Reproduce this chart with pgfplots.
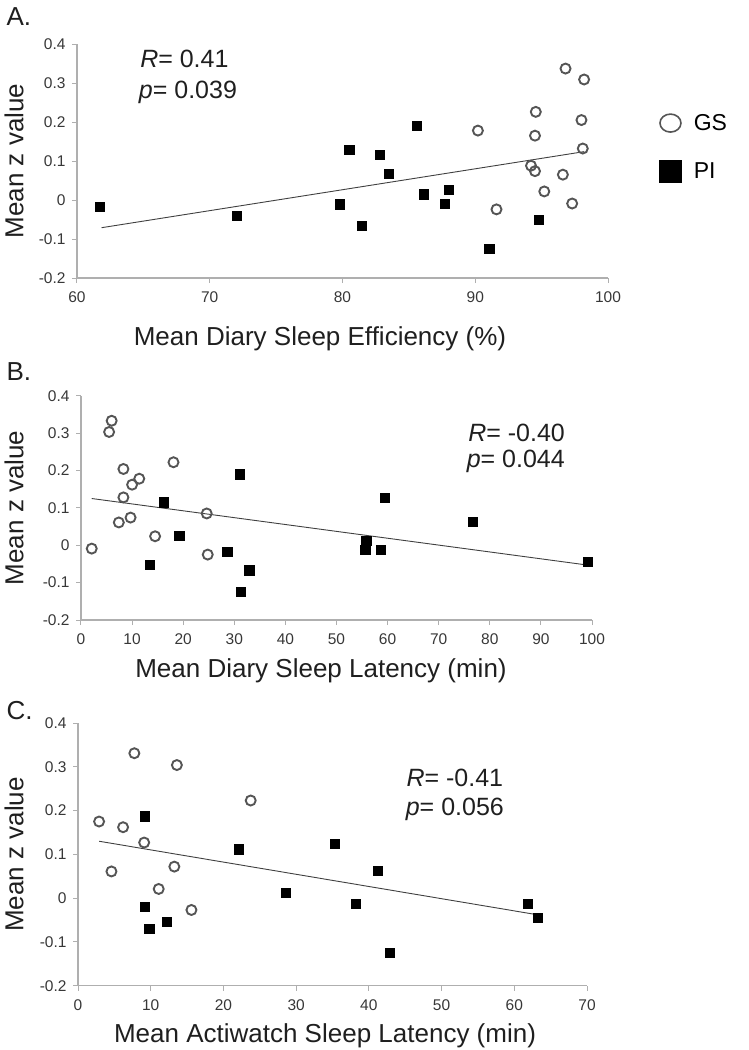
\documentclass[border=0pt]{standalone}
\usepackage{fontspec}
\setmainfont{Liberation Sans}
\usepackage{pgfplots}
\pgfplotsset{compat=1.18}
\definecolor{tickgray}{RGB}{55,55,55}
\definecolor{axgray}{RGB}{175,175,175}
\definecolor{circgray}{RGB}{85,85,85}
\tikzset{anno/.style={anchor=west, font=\fontsize{25}{27}\selectfont, text=black!88}}
\pgfplotsset{
  panel/.style={
    scale only axis,
    axis x line*=bottom, axis y line*=left,
    axis line style={draw=axgray, line width=1.2pt},
    tick style={draw=axgray, line width=1pt},
    major tick length=5pt,
    tick align=outside,
    ymin=-0.2, ymax=0.4,
    ytick={-0.2,-0.1,0,0.1,0.2,0.3,0.4},
    yticklabels={-0.2,-0.1,0,0.1,0.2,0.3,0.4},
    tick label style={font=\fontsize{15.5}{17}\selectfont, text=tickgray},
    /pgf/number format/assume math mode=true,
    xticklabel style={yshift=-5pt},
    yticklabel style={xshift=-3pt},
    ylabel={Mean z value},
    every axis y label/.style={rotate=90, anchor=center},
    every axis x label/.style={anchor=center},
    label style={font=\fontsize{26}{28}\selectfont, text=black!88},
    clip=false,
  },
  gs/.style={only marks, mark=o, mark size=5pt, mark options={draw=circgray, fill=white, line width=1.9pt}},
  pi/.style={only marks, mark=square*, mark size=4.6pt, mark options={draw=black, fill=black}},
  fit/.style={draw=black!75, line width=0.9pt, no marks},
}
\begin{document}
\begin{tikzpicture}
\path[use as bounding box] (0pt,0pt) rectangle (749pt,-1050pt);

% ---------------- Panel A ----------------
\begin{axis}[panel,
  at={(77pt,-278pt)}, anchor=south west,
  width=531pt, height=234pt,
  xmin=60, xmax=100, xtick={60,70,80,90,100},
  xlabel={Mean Diary Sleep Efficiency (\%)},
  x label style={at={(axis description cs:0.4576,-0.2607)}},
  y label style={at={(axis description cs:-0.1186,0.5)}},
  legend style={at={(axis description cs:1.096,0.709)}, anchor=north west,
    draw=none, fill=none, inner sep=0pt, row sep=26pt, column sep=0pt,
    font=\fontsize{23}{25}\selectfont},
  legend cell align=left,
]
\addplot[gs, legend image code/.code={\draw[circgray, line width=1.6pt] (11pt,0pt) ellipse [x radius=10.5pt, y radius=9pt];}] coordinates {
(90.2,0.178) (91.6,-0.024) (94.56,0.226) (94.5,0.165) (94.2,0.088) (94.5,0.074)
(95.2,0.022) (96.6,0.065) (96.8,0.337) (97.3,-0.009) (98.2,0.309) (98.0,0.205) (98.1,0.132)
};
\addlegendentry{\hspace{10pt}GS}
\addplot[pi, legend image code/.code={\fill[black] (0pt,-11pt) rectangle (22pt,11pt);}] coordinates {
(61.7,-0.018) (72.0,-0.041) (79.8,-0.011) (80.5,0.128) (81.45,-0.066) (82.8,0.116)
(83.45,0.067) (85.6,0.191) (86.1,0.015) (87.7,-0.009) (88.0,0.027) (91.05,-0.124) (94.75,-0.051)
};
\addlegendentry{\hspace{10pt}PI}
\addplot[fit, forget plot] coordinates {(61.85,-0.071) (98.2,0.124)};
\node[anno] at (axis cs:64.5,0.362) {\textit{R}= 0.41};
\node[anno] at (axis cs:64.4,0.277) {\textit{p}= 0.039};
\end{axis}

% ---------------- Panel B ----------------
\begin{axis}[panel,
  at={(81pt,-620pt)}, anchor=south west,
  width=511pt, height=224.3pt,
  xmin=0, xmax=100, xtick={0,10,...,100},
  xlabel={Mean Diary Sleep Latency (min)},
  x label style={at={(axis description cs:0.4697,-0.2274)}},
  y label style={at={(axis description cs:-0.131,0.5)}},
]
\addplot[gs] coordinates {
(2.1,-0.009) (6.0,0.333) (5.5,0.303) (8.3,0.204) (10.0,0.162) (11.4,0.178) (8.3,0.128)
(7.4,0.061) (9.7,0.074) (14.5,0.024) (18.1,0.222) (24.6,0.085) (24.8,-0.025)
};
\addplot[pi] coordinates {
(16.2,0.115) (19.2,0.026) (13.4,-0.052) (28.6,-0.018) (31.0,0.190) (32.9,-0.067)
(31.3,-0.124) (59.5,0.127) (55.8,0.013) (55.6,-0.011) (58.6,-0.011) (76.6,0.064) (99.1,-0.043)
};
\addplot[fit] coordinates {(2.1,0.125) (99.1,-0.053)};
\node[anno] at (axis cs:75.1,0.301) {\textit{R}= -0.40};
\node[anno] at (axis cs:74.8,0.224) {\textit{p}= 0.044};
\end{axis}

% ---------------- Panel C ----------------
\begin{axis}[panel,
  at={(78pt,-985.7pt)}, anchor=south west,
  width=509pt, height=262.7pt,
  xmin=0, xmax=70, xtick={0,10,...,70},
  xlabel={Mean Actiwatch Sleep Latency (min)},
  x label style={at={(axis description cs:0.4853,-0.1903)}},
  y label style={at={(axis description cs:-0.1257,0.5)}},
]
\addplot[gs] coordinates {
(2.9,0.175) (4.6,0.061) (6.2,0.162) (7.75,0.331) (9.1,0.127) (13.25,0.072)
(13.6,0.304) (11.1,0.021) (15.6,-0.027) (23.75,0.223)
};
\addplot[pi] coordinates {
(9.2,0.187) (9.2,-0.020) (9.8,-0.070) (12.2,-0.054) (22.05,0.112) (28.6,0.013)
(35.35,0.125) (41.2,0.062) (38.2,-0.012) (42.9,-0.124) (61.8,-0.012) (63.2,-0.044)
};
\addplot[fit] coordinates {(2.9,0.130) (63.2,-0.038)};
\node[anno] at (axis cs:44.7,0.275) {\textit{R}= -0.41};
\node[anno] at (axis cs:44.6,0.202) {\textit{p}= 0.056};
\end{axis}

% panel letters
\node[anchor=west, font=\fontsize{26}{28}\selectfont, text=black!88] at (3pt,-17pt) {A.};
\node[anchor=west, font=\fontsize{26}{28}\selectfont, text=black!88] at (3pt,-372pt) {B.};
\node[anchor=west, font=\fontsize{26}{28}\selectfont, text=black!88] at (3pt,-711pt) {C.};
\end{tikzpicture}
\end{document}
